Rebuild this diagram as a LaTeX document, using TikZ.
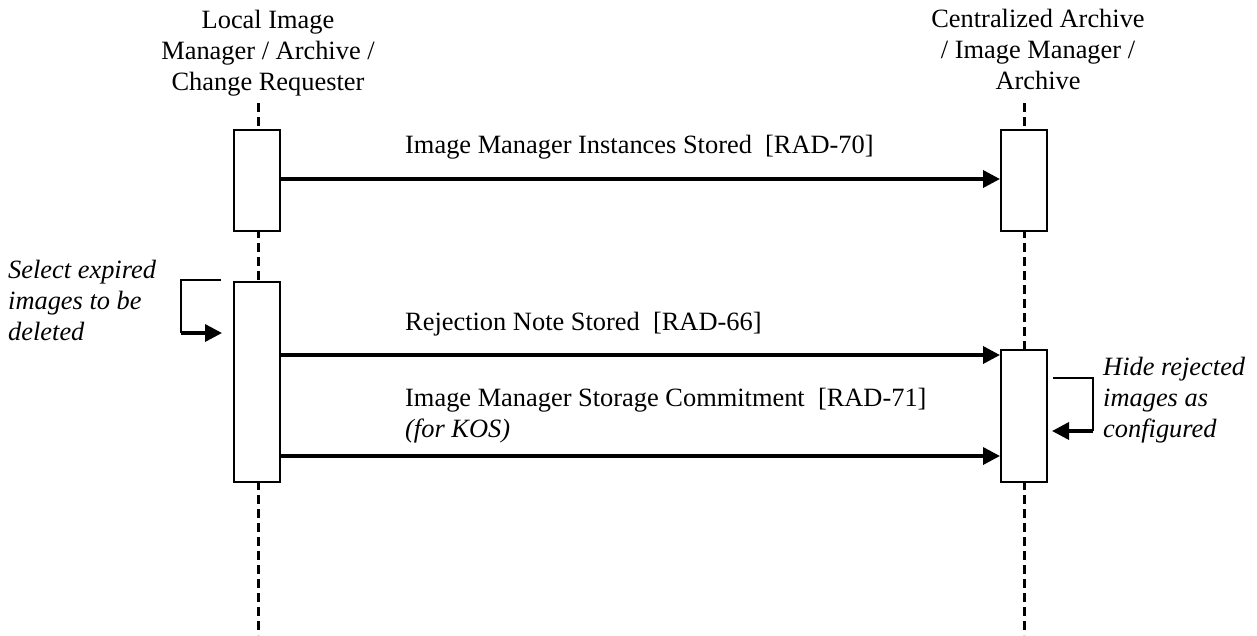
\documentclass[tikz,border=0pt]{standalone}
\usepackage{fontspec}
\setmainfont{Liberation Serif}
\usetikzlibrary{arrows.meta}

\tikzset{
  lifeline/.style={line width=3pt, dash pattern=on 9pt off 5pt},
  actbox/.style={draw, line width=2pt, fill=white, rectangle, inner sep=0pt,
                 minimum width=46pt, anchor=north},
  msg/.style={line width=3.5pt, -{Triangle[length=17pt,width=17pt]}},
  selfline/.style={line width=1.5pt},
  lbl/.style={inner sep=0pt, anchor=base west, align=left},
  hdr/.style={inner sep=0pt, anchor=base, align=center},
  note/.style={inner sep=0pt, anchor=base west, align=left, font=\itshape\fontsize{26.4}{31}\selectfont},
}

\begin{document}
\begin{tikzpicture}[x=1pt, y=-1pt, font=\fontsize{26.4}{31}\selectfont]
\useasboundingbox (0,0) rectangle (1257,635);

% lifelines
\coordinate (lTop) at (258,103);
\coordinate (lBot) at (258,635);
\coordinate (rTop) at (1024,103);
\coordinate (rBot) at (1024,635);
\draw[lifeline] (lTop) -- (lBot);
\draw[lifeline] (rTop) -- (rBot);

% actor headings (anchored on the baseline of the last line)
\node[hdr] (hL) at (268,90) {Local Image\\Manager / Archive /\\Change Requester};
\node[hdr] (hR) at (1038,89) {Centralized Archive\\/ Image Manager /\\Archive};

% activation boxes
\node[actbox, minimum height=101pt] (L1) at (257,129) {};
\node[actbox, minimum height=200pt] (L2) at (257,281) {};
\node[actbox, minimum height=101pt] (R1) at (1024,129) {};
\node[actbox, minimum height=132pt] (R2) at (1024,349) {};

% message rows
\coordinate (m1) at (0,179);
\coordinate (m2) at (0,355);
\coordinate (m3) at (0,456);

\draw[msg] (L1.east |- m1) -- (R1.west |- m1);
\draw[msg] (L2.east |- m2) -- (R2.west |- m2);
\draw[msg] (L2.east |- m3) -- (R2.west |- m3);

\node[lbl] (t1) at (405,153) {Image Manager Instances Stored\ \ [RAD-70]};
\node[lbl] (t2) at (405,330) {Rejection Note Stored\ \ [RAD-66]};
\node[lbl] (t3) at (405,437) {Image Manager Storage Commitment\ \ [RAD-71]\\\textit{(for KOS)}};

% local self action
\coordinate (sa1) at (221,280);
\coordinate (sa2) at (181,280);
\coordinate (sa3) at (181,333);
\draw[selfline] (sa1) -- (sa2) -- (sa3);
\draw[msg] (sa3) -- ([xshift=-11pt]L2.west |- sa3);
\node[note] (nL) at (8,340) {Select expired\\images to be\\deleted};

% central self action
\coordinate (sb1) at (1053,378);
\coordinate (sb2) at (1093,378);
\coordinate (sb3) at (1093,431);
\draw[selfline] (sb1) -- (sb2) -- (sb3);
\draw[msg] (sb3) -- ([xshift=4pt]R2.east |- sb3);
\node[note] (nR) at (1103,437) {Hide rejected\\images as\\configured};

\end{tikzpicture}
\end{document}
